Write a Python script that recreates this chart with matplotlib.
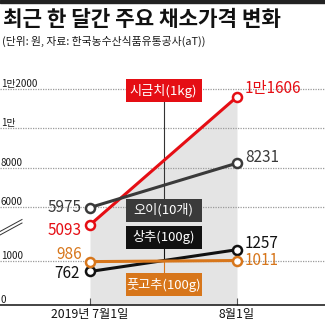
import numpy as np
import matplotlib
matplotlib.use('Agg')
import matplotlib.pyplot as plt
from matplotlib.patches import Rectangle
from matplotlib.transforms import blended_transform_factory

plt.rcParams['font.family'] = ['Noto Sans CJK KR', 'DejaVu Sans']

dates = ['2019년 7월1일', '8월1일']
items = ['시금치(1kg)', '오이(10개)', '상추(100g)', '풋고추(100g)']
spinach = [5093, 11606]
cucumber = [5975, 8231]
lettuce = [762, 1257]
pepper = [986, 1011]
grid_values = [0, 1000, 6000, 8000, 10000, 12000]

RED = '#e50e14'
DARK = '#3a3a3a'
BLACK = '#111111'
ORANGE = '#d7761b'


def won(v):
    # 12000 -> 1만2000, 10000 -> 1만
    if v >= 10000:
        rest = v % 10000
        return f'{v // 10000}만' + (str(rest) if rest else '')
    return str(v)


# broken y axis: 0~1500 stretched, 1500~5000 squeezed, 5000 up normal
knots_v = np.array([0, 1500, 5000, 14000])
knots_h = np.array([0, 66, 78.3, 255.3])


def fwd(v):
    return np.interp(v, knots_v, knots_h)


def inv(h):
    return np.interp(h, knots_h, knots_v)


fig = plt.figure(figsize=(3.25, 3.25), dpi=100)
ax = fig.add_axes([0, 20 / 325, 1, 245 / 325])
ax.set_yscale('function', functions=(fwd, inv))
ax.set_ylim(0, inv(245))
ax.set_xlim(-90 / 147, 235 / 147)
x = np.arange(len(dates))

# top rule and titles
fig.patches.append(Rectangle((0, 1 - 2.5 / 325), 1, 2.5 / 325, transform=fig.transFigure,
                             color='#222222', zorder=5))
fig.text(0.008, 1 - 19 / 325, '최근 한 달간 주요 채소가격 변화', fontsize=15.3,
         fontweight='black', va='center', color='#111111')
fig.text(0.006, 1 - 41 / 325, '(단위: 원, 자료: 한국농수산식품유통공사(aT))', fontsize=7.8,
         va='center', color='#1a1a1a')

ax.fill_between(x, spinach, 0, color='#e4e4e4', lw=0, zorder=0)

for v in grid_values:
    if v > 0:
        ax.axhline(v, color='#9a9a9a', lw=0.9, ls=(0, (1, 1)), zorder=1)
    ax.text(0.003, v, won(v), transform=blended_transform_factory(ax.transAxes, ax.transData),
            fontsize=7, color='#1a1a1a', va='bottom', ha='left')

# axis-break marks
for dy in (0, 3.5):
    ax.plot([0, 22 / 325], [(70 + dy) / 245, (82 + dy) / 245], transform=ax.transAxes,
            color='#333333', lw=0.7, clip_on=False)

series = [
    (spinach, RED, (-8, -6), (8, 8)),
    (cucumber, DARK, (-8, 0), (8, 5.5)),
    (lettuce, BLACK, (-10, -2), (8, 6)),
    (pepper, ORANGE, (-8, 7), (8, 0)),
]
for vals, col, left_off, right_off in series:
    ax.plot(x, vals, color=col, lw=2.2, marker='o', ms=6.5, mfc='white', mec=col, mew=1.8,
            zorder=4, solid_capstyle='butt')
    ax.annotate(won(vals[0]), (x[0], vals[0]), xytext=left_off, textcoords='offset pixels',
                ha='right', va='center', fontsize=11, fontweight='medium', color=col, zorder=6)
    ax.annotate(won(vals[1]), (x[1], vals[1]), xytext=right_off, textcoords='offset pixels',
                ha='left', va='center', fontsize=11, fontweight='medium', color=col, zorder=6)

# name boxes with leader lines
mid = 0.5
bt = blended_transform_factory(ax.transData, ax.transAxes)
box_w = 76 / 147
box_h = 23 / 245
boxes = [
    (items[0], RED, 90.5),
    (items[1], DARK, 210),
    (items[2], BLACK, 237.5),
    (items[3], ORANGE, 284.5),
]
ax.plot([mid, mid], [(305 - 101) / 245, (305 - 199) / 245], transform=bt, color='#333333',
        lw=0.8, zorder=2)
ax.plot([mid, mid], [(305 - 249) / 245, np.interp(fwd(np.mean(lettuce)), [0, 245], [0, 1])],
        transform=bt, color=BLACK, lw=0.8, zorder=2)
ax.plot([mid, mid], [(305 - 273) / 245, np.interp(fwd(np.mean(pepper)), [0, 245], [0, 1])],
        transform=bt, color=ORANGE, lw=0.8, zorder=2)
for name, col, yc in boxes:
    yb = (305 - yc) / 245
    ax.add_patch(Rectangle((mid - box_w / 2, yb - box_h / 2), box_w, box_h, transform=bt,
                           facecolor=col, edgecolor='none', zorder=5))
    ax.text(mid, yb, name, transform=bt, ha='center', va='center', fontsize=9.5,
            fontweight='medium', color='white', zorder=6)

# x axis
for s in ['top', 'right', 'left']:
    ax.spines[s].set_visible(False)
ax.spines['bottom'].set_color('#111111')
ax.spines['bottom'].set_linewidth(1.1)
ax.set_yticks([])
ax.set_xticks(x)
ax.set_xticklabels(dates, fontsize=8.8, color='#111111')
ax.tick_params(axis='x', direction='in', length=5, width=0.8, color='#555555', pad=2)

fig.savefig('out.png', dpi=100)
